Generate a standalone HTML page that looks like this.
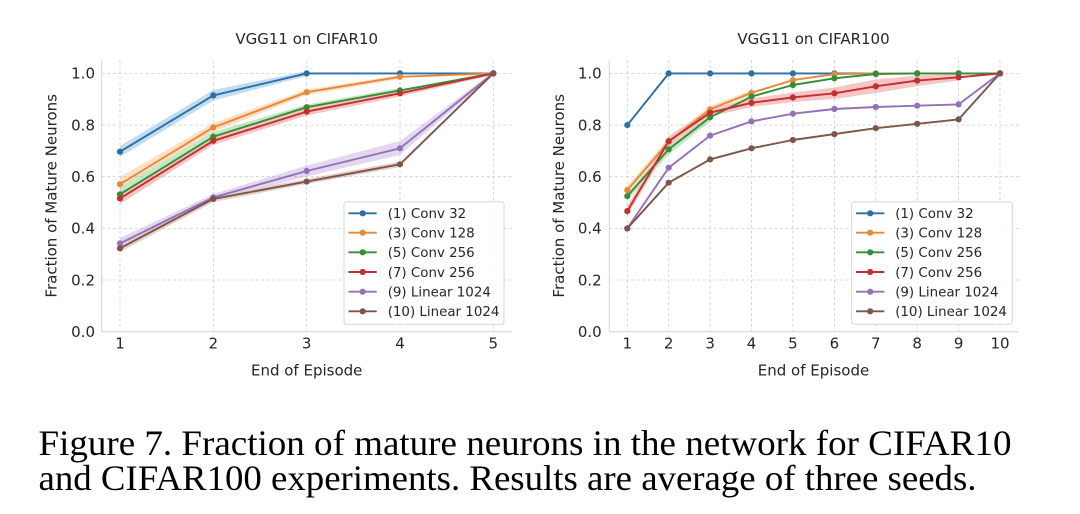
<!DOCTYPE html>
<html><head><meta charset="utf-8">
<style>
html,body{margin:0;padding:0;background:#fff;}
svg{display:block;}
.t{font-family:"DejaVu Sans","Liberation Sans",sans-serif;fill:#262626;}
.cap{font-family:"Liberation Serif",serif;fill:#000;}
</style></head>
<body>
<svg width="1080" height="514" viewBox="0 0 1080 514" xmlns="http://www.w3.org/2000/svg">
<rect width="1080" height="514" fill="#fff"/>

<!-- ============ LEFT CHART ============ -->
<g stroke="#cdcdcd" stroke-width="0.8" stroke-dasharray="3,2.5" fill="none">
  <line x1="120" y1="60" x2="120" y2="331.7"/>
  <line x1="213.3" y1="60" x2="213.3" y2="331.7"/>
  <line x1="306.7" y1="60" x2="306.7" y2="331.7"/>
  <line x1="400" y1="60" x2="400" y2="331.7"/>
  <line x1="493.3" y1="60" x2="493.3" y2="331.7"/>
  <line x1="101.7" y1="280" x2="512" y2="280"/>
  <line x1="101.7" y1="228.4" x2="512" y2="228.4"/>
  <line x1="101.7" y1="176.7" x2="512" y2="176.7"/>
  <line x1="101.7" y1="125.1" x2="512" y2="125.1"/>
  <line x1="101.7" y1="73.4" x2="512" y2="73.4"/>
</g>
<g stroke="#d4d4d4" stroke-width="1">
  <line x1="101.7" y1="60" x2="101.7" y2="331.7"/>
  <line x1="101.7" y1="331.7" x2="512" y2="331.7"/>
</g>
<!-- bands -->
<g stroke="none" opacity="0.3">
  <polygon fill="#3d8fd0" points="120,146 213.3,90 306.7,71 306.7,76 213.3,100.5 120,157"/>
  <polygon fill="#ff9a40" points="120,177 213.3,123 306.7,89.5 400,75 400,79 306.7,95 213.3,132 120,191"/>
  <polygon fill="#3cb43c" points="120,187 213.3,132 306.7,104.5 400,88 400,93 306.7,110 213.3,141 120,201"/>
  <polygon fill="#e04040" points="120,193 213.3,137 306.7,108 400,90 493.3,72 493.3,75 400,96.5 306.7,115.5 213.3,145 120,204"/>
  <polygon fill="#a77fd0" points="120,238 213.3,194 306.7,165.5 400,141 493.3,72 493.3,75 400,155 306.7,176.5 213.3,201 120,248"/>
  <polygon fill="#a0685a" points="120,244.5 213.3,196 306.7,179 400,161.5 400,167 306.7,184 213.3,202 120,252"/>
</g>
<g fill="none" stroke-width="1.9" stroke-linejoin="round">
  <polyline stroke="#2a6fa5" points="120,151.7 213.3,95.4 306.7,73.4 400,73.4 493.3,73.4"/>
  <polyline stroke="#e8883a" points="120,184.2 213.3,127.4 306.7,92.2 400,76.8 493.3,73.4"/>
  <polyline stroke="#348e34" points="120,194.3 213.3,136.7 306.7,107.2 400,90.4 493.3,73.4"/>
  <polyline stroke="#c0302f" points="120,198.4 213.3,140.8 306.7,111.6 400,93.3 493.3,73.4"/>
  <polyline stroke="#9370b8" points="120,243.4 213.3,197.4 306.7,171 400,148.3 493.3,73.4"/>
  <polyline stroke="#7f5448" points="120,248.3 213.3,198.9 306.7,181.6 400,164.3 493.3,73.4"/>
</g>
<g fill="#2a6fa5"><circle cx="120" cy="151.7" r="3.1"/><circle cx="213.3" cy="95.4" r="3.1"/><circle cx="306.7" cy="73.4" r="3.1"/><circle cx="400" cy="73.4" r="3.1"/><circle cx="493.3" cy="73.4" r="3.1"/></g>
<g fill="#e8883a"><circle cx="120" cy="184.2" r="3.1"/><circle cx="213.3" cy="127.4" r="3.1"/><circle cx="306.7" cy="92.2" r="3.1"/><circle cx="400" cy="76.8" r="3.1"/><circle cx="493.3" cy="73.4" r="3.1"/></g>
<g fill="#348e34"><circle cx="120" cy="194.3" r="3.1"/><circle cx="213.3" cy="136.7" r="3.1"/><circle cx="306.7" cy="107.2" r="3.1"/><circle cx="400" cy="90.4" r="3.1"/><circle cx="493.3" cy="73.4" r="3.1"/></g>
<g fill="#c0302f"><circle cx="120" cy="198.4" r="3.1"/><circle cx="213.3" cy="140.8" r="3.1"/><circle cx="306.7" cy="111.6" r="3.1"/><circle cx="400" cy="93.3" r="3.1"/><circle cx="493.3" cy="73.4" r="3.1"/></g>
<g fill="#9370b8"><circle cx="120" cy="243.4" r="3.1"/><circle cx="213.3" cy="197.4" r="3.1"/><circle cx="306.7" cy="171" r="3.1"/><circle cx="400" cy="148.3" r="3.1"/><circle cx="493.3" cy="73.4" r="3.1"/></g>
<g fill="#7f5448"><circle cx="120" cy="248.3" r="3.1"/><circle cx="213.3" cy="198.9" r="3.1"/><circle cx="306.7" cy="181.6" r="3.1"/><circle cx="400" cy="164.3" r="3.1"/><circle cx="493.3" cy="73.4" r="3.1"/></g>

<!-- left ticks -->
<g class="t" font-size="15" text-anchor="end">
  <text x="95" y="337">0.0</text>
  <text x="95" y="285.3">0.2</text>
  <text x="95" y="233.7">0.4</text>
  <text x="95" y="182">0.6</text>
  <text x="95" y="130.4">0.8</text>
  <text x="95" y="78.7">1.0</text>
</g>
<g class="t" font-size="15" text-anchor="middle">
  <text x="120" y="348.5">1</text>
  <text x="213.3" y="348.5">2</text>
  <text x="306.7" y="348.5">3</text>
  <text x="400" y="348.5">4</text>
  <text x="493.3" y="348.5">5</text>
  <text x="306.7" y="375.5">End of Episode</text>
  <text x="306.7" y="43.8">VGG11 on CIFAR10</text>
  <text transform="translate(56.5,195.8) rotate(-90)">Fraction of Mature Neurons</text>
</g>
<!-- left legend -->
<rect x="344" y="201.7" width="160" height="122.6" rx="3" fill="#fff" fill-opacity="0.85" stroke="#d6d6d6" stroke-width="1"/>
<g stroke-width="1.9">
  <line x1="348.5" y1="213.3" x2="376.7" y2="213.3" stroke="#2a6fa5"/>
  <line x1="348.5" y1="232.7" x2="376.7" y2="232.7" stroke="#e8883a"/>
  <line x1="348.5" y1="252.3" x2="376.7" y2="252.3" stroke="#348e34"/>
  <line x1="348.5" y1="272" x2="376.7" y2="272" stroke="#c0302f"/>
  <line x1="348.5" y1="291.7" x2="376.7" y2="291.7" stroke="#9370b8"/>
  <line x1="348.5" y1="311.3" x2="376.7" y2="311.3" stroke="#7f5448"/>
</g>
<circle cx="362.7" cy="213.3" r="3.1" fill="#2a6fa5"/>
<circle cx="362.7" cy="232.7" r="3.1" fill="#e8883a"/>
<circle cx="362.7" cy="252.3" r="3.1" fill="#348e34"/>
<circle cx="362.7" cy="272" r="3.1" fill="#c0302f"/>
<circle cx="362.7" cy="291.7" r="3.1" fill="#9370b8"/>
<circle cx="362.7" cy="311.3" r="3.1" fill="#7f5448"/>
<g class="t" font-size="13.4">
  <text x="387.7" y="218.2">(1) Conv 32</text>
  <text x="387.7" y="237.6">(3) Conv 128</text>
  <text x="387.7" y="257.2">(5) Conv 256</text>
  <text x="387.7" y="276.9">(7) Conv 256</text>
  <text x="387.7" y="296.6">(9) Linear 1024</text>
  <text x="387.7" y="316.2">(10) Linear 1024</text>
</g>

<!-- ============ RIGHT CHART ============ -->
<g stroke="#cdcdcd" stroke-width="0.8" stroke-dasharray="3,2.5" fill="none">
  <line x1="627.3" y1="60" x2="627.3" y2="331.7"/>
  <line x1="668.7" y1="60" x2="668.7" y2="331.7"/>
  <line x1="710.1" y1="60" x2="710.1" y2="331.7"/>
  <line x1="751.5" y1="60" x2="751.5" y2="331.7"/>
  <line x1="792.9" y1="60" x2="792.9" y2="331.7"/>
  <line x1="834.4" y1="60" x2="834.4" y2="331.7"/>
  <line x1="875.8" y1="60" x2="875.8" y2="331.7"/>
  <line x1="917.2" y1="60" x2="917.2" y2="331.7"/>
  <line x1="958.6" y1="60" x2="958.6" y2="331.7"/>
  <line x1="1000" y1="60" x2="1000" y2="331.7"/>
  <line x1="609.3" y1="280" x2="1019" y2="280"/>
  <line x1="609.3" y1="228.4" x2="1019" y2="228.4"/>
  <line x1="609.3" y1="176.7" x2="1019" y2="176.7"/>
  <line x1="609.3" y1="125.1" x2="1019" y2="125.1"/>
  <line x1="609.3" y1="73.4" x2="1019" y2="73.4"/>
</g>
<g stroke="#d4d4d4" stroke-width="1">
  <line x1="609.3" y1="60" x2="609.3" y2="331.7"/>
  <line x1="609.3" y1="331.7" x2="1019" y2="331.7"/>
</g>
<g stroke="none" opacity="0.3">
  <polygon fill="#3cb43c" points="627.3,192 668.7,144 710.1,113 710.1,121.5 668.7,154.5 627.3,200"/>
  <polygon fill="#ff9a40" points="627.3,186 668.7,138 710.1,106 751.5,90 751.5,95.5 710.1,112.5 668.7,146 627.3,194"/>
  <polygon fill="#e04040" points="627.3,206 668.7,136 710.1,109 751.5,98.5 792.9,92.5 834.4,87.5 875.8,79.5 917.2,75.5 958.6,74 958.6,80.5 917.2,86 875.8,93 834.4,99 792.9,102 751.5,107 710.1,116.5 668.7,146 627.3,216"/>
</g>
<g fill="none" stroke-width="1.9" stroke-linejoin="round">
  <polyline stroke="#2a6fa5" points="627.3,125.1 668.7,73.4 710.1,73.4 751.5,73.4 792.9,73.4 834.4,73.4 875.8,73.4 917.2,73.4 958.6,73.4 1000,73.4"/>
  <polyline stroke="#e8883a" points="627.3,190.1 668.7,141.9 710.1,109.3 751.5,92.8 792.9,80.1 834.4,74.2 875.8,73.4 917.2,73.4 958.6,73.4 1000,73.4"/>
  <polyline stroke="#348e34" points="627.3,196.1 668.7,149.3 710.1,117.3 751.5,96.6 792.9,85 834.4,78.3 875.8,74 917.2,73.4 958.6,73.4 1000,73.4"/>
  <polyline stroke="#c0302f" points="627.3,211.1 668.7,141.1 710.1,112.7 751.5,102.8 792.9,97.4 834.4,93.3 875.8,86.3 917.2,80.6 958.6,77.3 1000,73.4"/>
  <polyline stroke="#9370b8" points="627.3,228.4 668.7,167.7 710.1,135.6 751.5,121.4 792.9,113.7 834.4,109 875.8,107 917.2,105.7 958.6,104.4 1000,73.4"/>
  <polyline stroke="#7f5448" points="627.3,228.4 668.7,182.7 710.1,159.4 751.5,148.3 792.9,140 834.4,134.1 875.8,128.2 917.2,123.8 958.6,119.4 1000,73.4"/>
</g>
<g fill="#2a6fa5"><circle cx="627.3" cy="125.1" r="3.1"/><circle cx="668.7" cy="73.4" r="3.1"/><circle cx="710.1" cy="73.4" r="3.1"/><circle cx="751.5" cy="73.4" r="3.1"/><circle cx="792.9" cy="73.4" r="3.1"/><circle cx="834.4" cy="73.4" r="3.1"/><circle cx="875.8" cy="73.4" r="3.1"/><circle cx="917.2" cy="73.4" r="3.1"/><circle cx="958.6" cy="73.4" r="3.1"/><circle cx="1000" cy="73.4" r="3.1"/></g>
<g fill="#e8883a"><circle cx="627.3" cy="190.1" r="3.1"/><circle cx="668.7" cy="141.9" r="3.1"/><circle cx="710.1" cy="109.3" r="3.1"/><circle cx="751.5" cy="92.8" r="3.1"/><circle cx="792.9" cy="80.1" r="3.1"/><circle cx="834.4" cy="74.2" r="3.1"/><circle cx="875.8" cy="73.4" r="3.1"/><circle cx="917.2" cy="73.4" r="3.1"/><circle cx="958.6" cy="73.4" r="3.1"/><circle cx="1000" cy="73.4" r="3.1"/></g>
<g fill="#348e34"><circle cx="627.3" cy="196.1" r="3.1"/><circle cx="668.7" cy="149.3" r="3.1"/><circle cx="710.1" cy="117.3" r="3.1"/><circle cx="751.5" cy="96.6" r="3.1"/><circle cx="792.9" cy="85" r="3.1"/><circle cx="834.4" cy="78.3" r="3.1"/><circle cx="875.8" cy="74" r="3.1"/><circle cx="917.2" cy="73.4" r="3.1"/><circle cx="958.6" cy="73.4" r="3.1"/><circle cx="1000" cy="73.4" r="3.1"/></g>
<g fill="#c0302f"><circle cx="627.3" cy="211.1" r="3.1"/><circle cx="668.7" cy="141.1" r="3.1"/><circle cx="710.1" cy="112.7" r="3.1"/><circle cx="751.5" cy="102.8" r="3.1"/><circle cx="792.9" cy="97.4" r="3.1"/><circle cx="834.4" cy="93.3" r="3.1"/><circle cx="875.8" cy="86.3" r="3.1"/><circle cx="917.2" cy="80.6" r="3.1"/><circle cx="958.6" cy="77.3" r="3.1"/><circle cx="1000" cy="73.4" r="3.1"/></g>
<g fill="#9370b8"><circle cx="627.3" cy="228.4" r="3.1"/><circle cx="668.7" cy="167.7" r="3.1"/><circle cx="710.1" cy="135.6" r="3.1"/><circle cx="751.5" cy="121.4" r="3.1"/><circle cx="792.9" cy="113.7" r="3.1"/><circle cx="834.4" cy="109" r="3.1"/><circle cx="875.8" cy="107" r="3.1"/><circle cx="917.2" cy="105.7" r="3.1"/><circle cx="958.6" cy="104.4" r="3.1"/><circle cx="1000" cy="73.4" r="3.1"/></g>
<g fill="#7f5448"><circle cx="627.3" cy="228.4" r="3.1"/><circle cx="668.7" cy="182.7" r="3.1"/><circle cx="710.1" cy="159.4" r="3.1"/><circle cx="751.5" cy="148.3" r="3.1"/><circle cx="792.9" cy="140" r="3.1"/><circle cx="834.4" cy="134.1" r="3.1"/><circle cx="875.8" cy="128.2" r="3.1"/><circle cx="917.2" cy="123.8" r="3.1"/><circle cx="958.6" cy="119.4" r="3.1"/><circle cx="1000" cy="73.4" r="3.1"/></g>

<g class="t" font-size="15" text-anchor="end">
  <text x="601.7" y="337">0.0</text>
  <text x="601.7" y="285.3">0.2</text>
  <text x="601.7" y="233.7">0.4</text>
  <text x="601.7" y="182">0.6</text>
  <text x="601.7" y="130.4">0.8</text>
  <text x="601.7" y="78.7">1.0</text>
</g>
<g class="t" font-size="15" text-anchor="middle">
  <text x="627.3" y="348.5">1</text>
  <text x="668.7" y="348.5">2</text>
  <text x="710.1" y="348.5">3</text>
  <text x="751.5" y="348.5">4</text>
  <text x="792.9" y="348.5">5</text>
  <text x="834.4" y="348.5">6</text>
  <text x="875.8" y="348.5">7</text>
  <text x="917.2" y="348.5">8</text>
  <text x="958.6" y="348.5">9</text>
  <text x="1000" y="348.5">10</text>
  <text x="813.5" y="375.5">End of Episode</text>
  <text x="813.5" y="43.8">VGG11 on CIFAR100</text>
  <text transform="translate(564,195.8) rotate(-90)">Fraction of Mature Neurons</text>
</g>
<rect x="851.7" y="201.7" width="160.6" height="122.6" rx="3" fill="#fff" fill-opacity="0.85" stroke="#d6d6d6" stroke-width="1"/>
<g stroke-width="1.9">
  <line x1="856" y1="213.3" x2="884.3" y2="213.3" stroke="#2a6fa5"/>
  <line x1="856" y1="232.7" x2="884.3" y2="232.7" stroke="#e8883a"/>
  <line x1="856" y1="252.3" x2="884.3" y2="252.3" stroke="#348e34"/>
  <line x1="856" y1="272" x2="884.3" y2="272" stroke="#c0302f"/>
  <line x1="856" y1="291.7" x2="884.3" y2="291.7" stroke="#9370b8"/>
  <line x1="856" y1="311.3" x2="884.3" y2="311.3" stroke="#7f5448"/>
</g>
<circle cx="870.2" cy="213.3" r="3.1" fill="#2a6fa5"/>
<circle cx="870.2" cy="232.7" r="3.1" fill="#e8883a"/>
<circle cx="870.2" cy="252.3" r="3.1" fill="#348e34"/>
<circle cx="870.2" cy="272" r="3.1" fill="#c0302f"/>
<circle cx="870.2" cy="291.7" r="3.1" fill="#9370b8"/>
<circle cx="870.2" cy="311.3" r="3.1" fill="#7f5448"/>
<g class="t" font-size="13.4">
  <text x="895.2" y="218.2">(1) Conv 32</text>
  <text x="895.2" y="237.6">(3) Conv 128</text>
  <text x="895.2" y="257.2">(5) Conv 256</text>
  <text x="895.2" y="276.9">(7) Conv 256</text>
  <text x="895.2" y="296.6">(9) Linear 1024</text>
  <text x="895.2" y="316.2">(10) Linear 1024</text>
</g>

<!-- caption -->
<g class="cap" font-size="36">
  <text x="38.5" y="455" textLength="973" lengthAdjust="spacingAndGlyphs">Figure 7. Fraction of mature neurons in the network for CIFAR10</text>
  <text x="38.5" y="490" textLength="938" lengthAdjust="spacingAndGlyphs">and CIFAR100 experiments. Results are average of three seeds.</text>
</g>
</svg>
</body></html>
